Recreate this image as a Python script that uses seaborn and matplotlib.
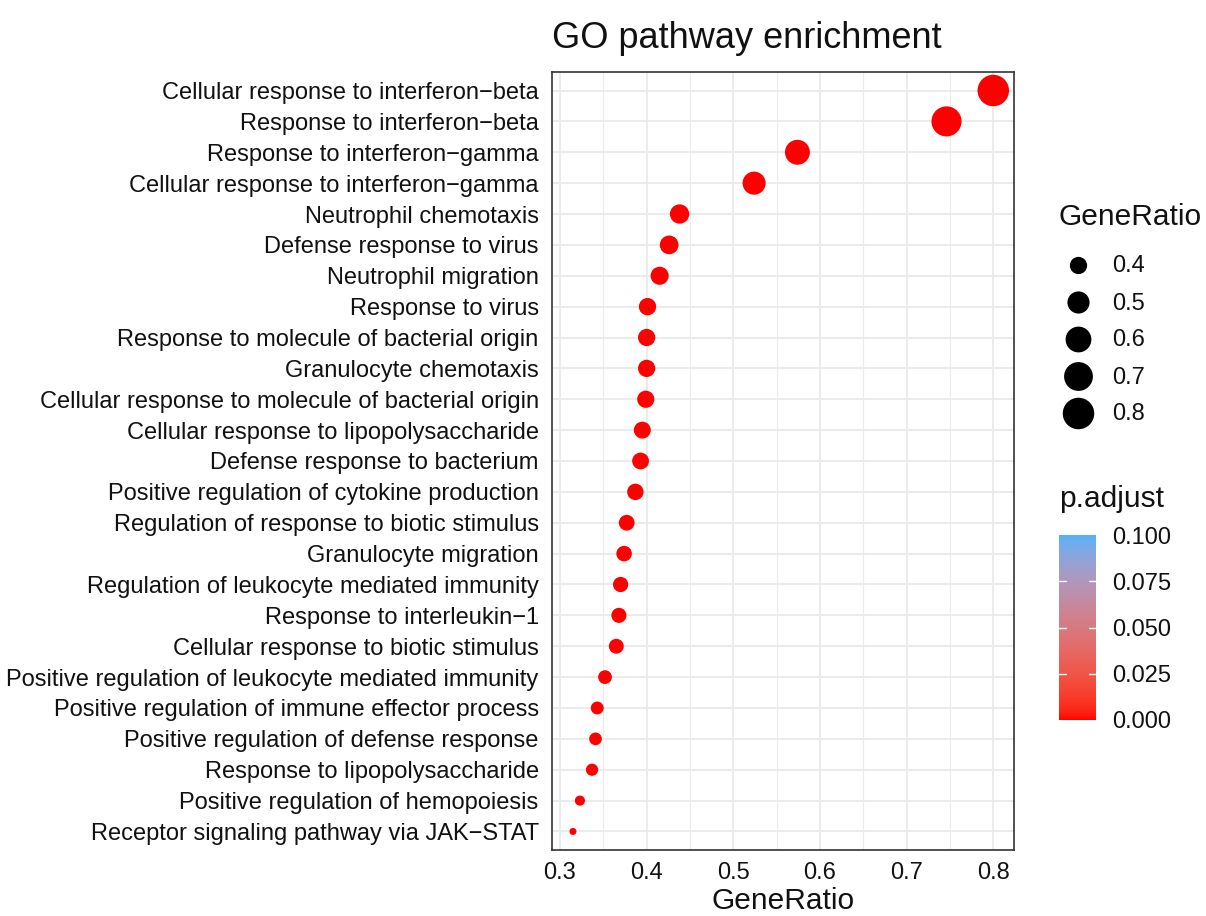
import numpy as np
import pandas as pd
import matplotlib
matplotlib.use("Agg")
import matplotlib.pyplot as plt
import matplotlib.transforms as mtransforms
from matplotlib.colors import ListedColormap, Normalize
from matplotlib.cm import ScalarMappable
import seaborn as sns

# ---- data -----------------------------------------------------------------
terms = [
    "Cellular response to interferon\u2212beta",
    "Response to interferon\u2212beta",
    "Response to interferon\u2212gamma",
    "Cellular response to interferon\u2212gamma",
    "Neutrophil chemotaxis",
    "Defense response to virus",
    "Neutrophil migration",
    "Response to virus",
    "Response to molecule of bacterial origin",
    "Granulocyte chemotaxis",
    "Cellular response to molecule of bacterial origin",
    "Cellular response to lipopolysaccharide",
    "Defense response to bacterium",
    "Positive regulation of cytokine production",
    "Regulation of response to biotic stimulus",
    "Granulocyte migration",
    "Regulation of leukocyte mediated immunity",
    "Response to interleukin\u22121",
    "Cellular response to biotic stimulus",
    "Positive regulation of leukocyte mediated immunity",
    "Positive regulation of immune effector process",
    "Positive regulation of defense response",
    "Response to lipopolysaccharide",
    "Positive regulation of hemopoiesis",
    "Receptor signaling pathway via JAK\u2212STAT",
]
gene_ratio = [
    0.800, 0.746, 0.574, 0.524, 0.438, 0.426, 0.415, 0.401, 0.400, 0.400,
    0.399, 0.395, 0.393, 0.387, 0.377, 0.374, 0.370, 0.368, 0.365, 0.352,
    0.343, 0.341, 0.337, 0.323, 0.315,
]
p_adjust = [
    1.2e-12, 3.5e-12, 2.1e-10, 8.4e-10, 4.0e-8, 5.2e-8, 7.9e-8, 1.1e-7, 1.3e-7, 1.6e-7,
    2.0e-7, 2.6e-7, 3.1e-7, 4.4e-7, 6.0e-7, 7.2e-7, 9.5e-7, 1.2e-6, 1.5e-6, 2.3e-6,
    3.4e-6, 4.1e-6, 5.3e-6, 8.8e-6, 1.4e-5,
]
size_breaks = [0.4, 0.5, 0.6, 0.7, 0.8]
x_ticks = [0.3, 0.4, 0.5, 0.6, 0.7, 0.8]
cbar_ticks = [0.0, 0.025, 0.05, 0.075, 0.1]
cbar_labels = ["0.000", "0.025", "0.050", "0.075", "0.100"]

df = pd.DataFrame({"Description": terms, "GeneRatio": gene_ratio, "p.adjust": p_adjust})

# ---- style ----------------------------------------------------------------
sns.set_style("white")
plt.rcParams["font.family"] = ["Liberation Sans", "DejaVu Sans"]
plt.rcParams["axes.unicode_minus"] = True

DPI = 100
W, H = 1206, 916
TEXT = "#111111"
LINE = "#333333"


# ---- red -> light blue gradient interpolated in CIE Lab -------------------
_M = np.array([[0.4124564, 0.3575761, 0.1804375],
               [0.2126729, 0.7151522, 0.0721750],
               [0.0193339, 0.1191920, 0.9503041]])
_WHITE = np.array([0.95047, 1.0, 1.08883])


def hex_to_rgb(h):
    h = h.lstrip("#")
    return np.array([int(h[i:i + 2], 16) / 255 for i in (0, 2, 4)])


def srgb_to_lab(rgb):
    lin = np.where(rgb <= 0.04045, rgb / 12.92, ((rgb + 0.055) / 1.055) ** 2.4)
    t = (lin @ _M.T) / _WHITE
    d = 6 / 29
    f = np.where(t > d ** 3, np.cbrt(t), t / (3 * d * d) + 4 / 29)
    return np.stack([116 * f[..., 1] - 16,
                     500 * (f[..., 0] - f[..., 1]),
                     200 * (f[..., 1] - f[..., 2])], -1)


def lab_to_srgb(lab):
    fy = (lab[..., 0] + 16) / 116
    fx = fy + lab[..., 1] / 500
    fz = fy - lab[..., 2] / 200
    f = np.stack([fx, fy, fz], -1)
    d = 6 / 29
    t = np.where(f > d, f ** 3, 3 * d * d * (f - 4 / 29))
    lin = np.clip((t * _WHITE) @ np.linalg.inv(_M).T, 0, 1)
    rgb = np.where(lin <= 0.0031308, 12.92 * lin, 1.055 * lin ** (1 / 2.4) - 0.055)
    return np.clip(rgb, 0, 1)


lab_lo = srgb_to_lab(hex_to_rgb("#FF0000"))
lab_hi = srgb_to_lab(hex_to_rgb("#56B1F7"))
frac = np.linspace(0, 1, 256)[:, None]
padj_cmap = ListedColormap(lab_to_srgb(lab_lo + frac * (lab_hi - lab_lo)))
padj_norm = Normalize(0, 0.1)

# ---- point size scale (area-style, like ggplot's scale_size) -------------
g_min, g_max = min(gene_ratio), max(gene_ratio)


def dot_area(v):
    d_px = 7 + 24.5 * np.sqrt((v - g_min) / (g_max - g_min))
    return (d_px * 72 / DPI) ** 2


# ---- figure ---------------------------------------------------------------
fig = plt.figure(figsize=(W / DPI, H / DPI), dpi=DPI)
ax = fig.add_axes([552 / W, 1 - 850 / H, (1014 - 552) / W, (850 - 72) / H])

sns.scatterplot(
    data=df, x="GeneRatio", y="Description",
    size="GeneRatio", sizes={v: dot_area(v) for v in set(gene_ratio)},
    hue="p.adjust", palette=padj_cmap, hue_norm=(0, 0.1),
    linewidth=0, legend=False, ax=ax, zorder=3,
)

n = len(terms)
ax.set_ylim(n - 1 + 0.6, -0.6)
ax.set_xlim(0.2908, 0.8239)
ax.set_xticks(x_ticks)
ax.set_xticklabels([f"{t:.1f}" for t in x_ticks])
ax.set_xticks([t + 0.05 for t in x_ticks[:-1]], minor=True)

ax.set_axisbelow(True)
ax.grid(which="major", color="#EBEBEB", linewidth=1.4)
ax.grid(which="minor", axis="x", color="#EBEBEB", linewidth=0.8)
for s in ax.spines.values():
    s.set_color(LINE)
    s.set_linewidth(1.2)
ax.tick_params(which="major", length=3.6, width=1.1, color=LINE,
               labelsize=17, labelcolor=TEXT, pad=6)
ax.tick_params(which="minor", length=0)
ax.tick_params(axis="x", pad=5)

ax.set_ylabel("")
ax.set_xlabel("GeneRatio", fontsize=21.5, color=TEXT, labelpad=2)
ax.set_title("GO pathway enrichment", loc="left", fontsize=26, pad=17, color=TEXT)

# ---- size legend ----------------------------------------------------------
lax = fig.add_axes([0, 0, 1, 1], facecolor="none")
lax.set_xlim(0, W)
lax.set_ylim(H, 0)
lax.axis("off")
lax.text(1059, 225, "GeneRatio", fontsize=21.5, color=TEXT, va="baseline")
key_y0, key_step = 264.5, 37.0
for i, b in enumerate(size_breaks):
    y = key_y0 + i * key_step
    lax.scatter([1078], [y], s=dot_area(b), color="black", linewidth=0)
    lax.text(1112, y + 2, f"{b:.1f}", fontsize=17, color=TEXT, va="center")

# ---- colour bar -----------------------------------------------------------
lax.text(1059, 507, "p.adjust", fontsize=21.5, color=TEXT, va="baseline")
cax = fig.add_axes([1059 / W, 1 - 720 / H, 37 / W, 185 / H])
cb = fig.colorbar(ScalarMappable(norm=padj_norm, cmap=padj_cmap), cax=cax, ticks=cbar_ticks)
cb.set_ticklabels(cbar_labels)
cb.outline.set_visible(False)
cax.tick_params(length=0, pad=11.5, labelsize=17, labelcolor=TEXT)
trans = mtransforms.blended_transform_factory(cax.transAxes, cax.transData)
for t in cbar_ticks[1:-1]:
    cax.plot([0, 0.2], [t, t], color="white", lw=1.0, transform=trans)
    cax.plot([0.8, 1], [t, t], color="white", lw=1.0, transform=trans)

fig.savefig("out.png", dpi=DPI, facecolor="white")
